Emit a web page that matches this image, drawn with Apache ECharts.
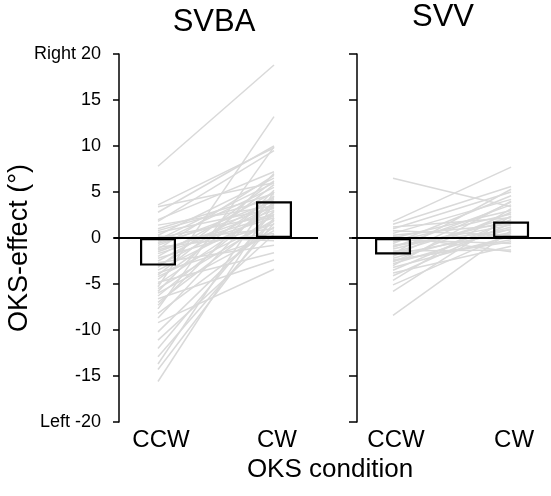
<!DOCTYPE html>
<html><head><meta charset="utf-8">
<script src="https://cdn.jsdelivr.net/npm/echarts@6/dist/echarts.min.js"></script>
<style>html,body{margin:0;padding:0;background:#fff}#c{width:551px;height:496px}</style>
</head><body><div id="c"></div>
<script>
const categories = ['CCW', 'CW'];
const panelTitles = ['SVBA', 'SVV'];
const yAxisTitle = 'OKS-effect (°)';
const xAxisTitle = 'OKS condition';
const yEndLabels = { '20': 'Right 20', '-20': 'Left -20' };

const svbaMeans = [-3.0, 4.0];
const svvMeans = [-1.8, 1.8];

const svbaCCW = [7.8, 3.6, 3.4, 2.8, 2.0, 1.8, 1.0, 0.6, 0.3, 0.0, -0.3, -0.5, -0.8, -1.0, -1.2, -1.5, -1.7, -2.0, -2.2, -2.5,
  -2.7, -3.0, -3.2, -3.5, -3.8, -4.0, -4.2, -4.5, -4.8, -5.0, -5.3, -5.5, -5.8, -6.0, -6.3, -6.6, -7.0, -7.3, -7.7, -8.2,
  -8.7, -9.2, -10.2, -11.1, -12.0, -12.9, -13.7, -14.3, -15.6, 1.4, 0.8, -0.2, -1.3, 0.2, -0.6];
const svbaCW = [18.8, 9.8, 6.0, 10.0, 7.2, 9.5, 4.8, 3.2, 6.5, 2.5, 1.0, 5.5, 4.0, 0.5, 6.8, 3.0, 2.2, 5.0, 1.5, 4.2,
  -0.8, 3.6, 6.2, 2.8, 0.2, 5.8, 1.8, 4.5, -1.6, 3.4, 13.2, 2.0, 7.0, 0.8, 3.9, -2.4, 2.6, 5.2, 9.9, 1.2,
  4.6, -3.4, 2.0, 0.4, 3.0, 1.6, 5.0, 2.2, 3.8, 3.5, 4.3, 6.0, 2.4, -0.3, 3.3];

const svvCCW = [6.5, 1.8, 1.5, 1.2, 1.0, 0.8, 0.5, 0.3, 0.0, -0.2, -0.4, -0.6, -0.8, -1.0, -1.2, -1.4, -1.6, -1.8,
  -2.0, -2.2, -2.4, -2.6, -2.8, -3.0, -3.2, -3.5, -3.8, -4.1, -4.6, -5.1, -5.8, -8.4, 0.2, -0.9, -1.7, -2.5];
const svvCW = [3.4, 7.7, 5.6, 2.2, 5.0, 0.3, 4.2, 1.5, 3.0, -0.6, 2.6, 4.6, 0.9, 3.6, 1.9, -1.3, 2.3, 0.6,
  3.9, 1.2, -0.4, 2.8, 1.0, 4.0, 0.2, 2.0, -0.9, 1.6, 3.2, 0.5, 2.4, 0.8, -1.5, 1.4, 5.3, -0.2];

const FONT = "'Liberation Sans', Arial, sans-serif";
const chart = echarts.init(document.getElementById('c'), null, { renderer: 'canvas' });

function subjectLines(ccw, cw, idx) {
  return ccw.map((v, i) => ({
    type: 'line', xAxisIndex: idx, yAxisIndex: idx, silent: true, z: 1,
    symbol: 'none', animation: false,
    lineStyle: { color: '#d9d9d9', width: 1.5 },
    data: [[1, v], [2, cw[i]]]
  }));
}
function meanBars(means, idx) {
  return {
    type: 'bar', xAxisIndex: idx, yAxisIndex: idx, z: 3, silent: true, animation: false,
    barWidth: 36,
    itemStyle: { color: 'rgba(0,0,0,0)', borderColor: '#000', borderWidth: 2.2 },
    data: means.map((v, i) => [i + 1, v]),
    markLine: {
      symbol: 'none', silent: true, animation: false,
      label: { show: false },
      lineStyle: { color: '#000', width: 2, type: 'solid' },
      data: [{ yAxis: 0 }]
    }
  };
}
function xAx(idx, min, max) {
  return {
    type: 'value', gridIndex: idx, min: min, max: max,
    axisLine: { show: false, onZero: false }, axisTick: { show: false }, splitLine: { show: false },
    axisLabel: { customValues: [1, 2], formatter: v => categories[Math.round(v) - 1],
      fontSize: 24, color: '#000', fontFamily: FONT, margin: 6, padding: [0, 0, 0, 6] }
  };
}
function yAx(idx, showLabels, tickLen) {
  return {
    type: 'value', gridIndex: idx, min: -20, max: 20, interval: 5, offset: -5,
    axisLine: { show: true, onZero: false, lineStyle: { color: '#000', width: 1.5 } },
    axisTick: { show: true, length: tickLen, lineStyle: { color: '#000', width: 1.5 } },
    splitLine: { show: false },
    axisLabel: { show: showLabels, fontSize: 18, color: '#000', fontFamily: FONT, margin: 18,
      formatter: v => yEndLabels[String(v)] || String(v) }
  };
}

chart.setOption({
  animation: false,
  backgroundColor: '#fff',
  grid: [
    { left: 114, top: 54, width: 204, height: 368 },
    { left: 352, top: 54, width: 199, height: 368 }
  ],
  xAxis: [xAx(0, 0.6207, 2.3794), xAx(1, 0.6525, 2.338)],
  yAxis: [yAx(0, true, 6), yAx(1, false, 8)],
  graphic: [
    { type: 'text', x: 214, y: 22, style: { text: panelTitles[0], font: '31px ' + FONT, fill: '#000', textAlign: 'center', textVerticalAlign: 'middle' } },
    { type: 'text', x: 443, y: 17, style: { text: panelTitles[1], font: '31px ' + FONT, fill: '#000', textAlign: 'center', textVerticalAlign: 'middle' } },
    { type: 'text', x: 20, y: 248, rotation: Math.PI / 2, style: { text: yAxisTitle, font: '27px ' + FONT, fill: '#000', textAlign: 'center', textVerticalAlign: 'middle' } },
    { type: 'text', x: 330, y: 470, style: { text: xAxisTitle, font: '26px ' + FONT, fill: '#000', textAlign: 'center', textVerticalAlign: 'middle' } }
  ],
  series: [].concat(
    subjectLines(svbaCCW, svbaCW, 0), [meanBars(svbaMeans, 0)],
    subjectLines(svvCCW, svvCW, 1), [meanBars(svvMeans, 1)]
  )
});
</script></body></html>
